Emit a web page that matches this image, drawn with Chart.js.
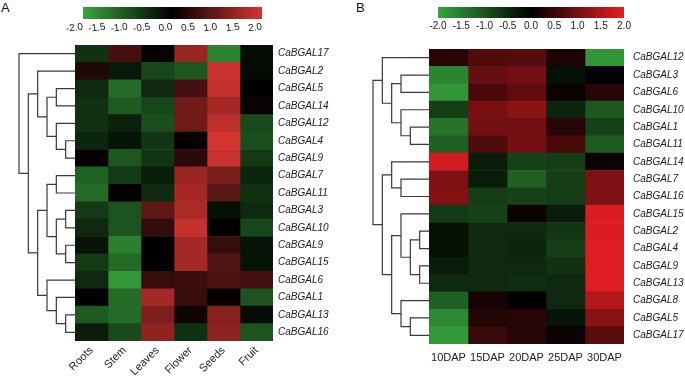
<!DOCTYPE html>
<html lang="en">
<head>
<meta charset="UTF-8" />
<title>CaBGAL expression heatmaps</title>
<script src="https://cdn.jsdelivr.net/npm/chart.js"></script>
<style>
  body { margin: 0; background: #fff; font-family: Arial, 'Liberation Sans', sans-serif; }
  #page { position: relative; width: 685px; height: 381px; overflow: hidden; }
  #page canvas { position: absolute; }
  .tag { position: absolute; font-size: 13px; line-height: 13px; color: #111; }
</style>
</head>
<body>
<div id="page">
  <div class="tag" style="left:1px; top:1px">A</div>
  <div class="tag" style="left:356px; top:1px">B</div>
  <canvas id="barA" width="219" height="32" style="left:63px; top:7px"></canvas>
  <canvas id="treeA" width="66" height="296" style="left:10px; top:45px"></canvas>
  <canvas id="heatA" width="298" height="336" style="left:45px; top:45px"></canvas>
  <canvas id="barB" width="226" height="31" style="left:418px; top:7px"></canvas>
  <canvas id="treeB" width="66" height="295" style="left:364px; top:49px"></canvas>
  <canvas id="heatB" width="255" height="321" style="left:429px; top:49px"></canvas>
</div>

<script>
  // panel A: tissues
  const genesA = ['CaBGAL17','CaBGAL2','CaBGAL5','CaBGAL14','CaBGAL12','CaBGAL4','CaBGAL9',
                  'CaBGAL7','CaBGAL11','CaBGAL3','CaBGAL10','CaBGAL9','CaBGAL15','CaBGAL6',
                  'CaBGAL1','CaBGAL13','CaBGAL16'];
  const tissues = ['Roots', 'Stem', 'Leaves', 'Flower', 'Seeds', 'Fruit'];
  const exprA = [
    [-0.6,  0.65,  0.05,  1.45,  -1.6,  -0.15],
    [ 0.3, -0.3,  -0.85, -1.05,   1.9,  -0.15],
    [-0.5, -1.3,  -0.5,   0.65,   1.85,  0.0 ],
    [-0.6, -1.1,  -0.85,  1.05,   1.55,  0.08],
    [-0.6, -0.4,  -0.95,  1.05,   1.8,  -0.9 ],
    [-0.45,-0.25, -0.65,  0.05,   2.0,  -0.95],
    [ 0.05,-1.05, -0.65,  0.4,    1.9,  -0.7 ],
    [-1.2, -0.7,  -0.35,  1.45,   1.15, -0.45],
    [-1.3,  0.05, -0.5,   1.55,   0.85, -0.6 ],
    [-0.7, -1.0,   0.9,   1.6,   -0.2,  -0.5 ],
    [-0.5, -1.0,   0.45,  1.85,   0.05, -0.85],
    [-0.25,-1.55,  0.0,   1.55,   0.5,  -0.25],
    [-0.7, -1.3,   0.0,   1.55,   0.75, -0.25],
    [-0.5, -1.85,  0.5,   0.55,   0.7,   0.65],
    [ 0.0, -1.3,   1.55,  0.5,    0.05, -1.0 ],
    [-1.1, -1.3,   1.2,   0.15,   1.25, -0.15],
    [-0.35,-0.9,   1.35, -0.6,    1.35, -1.0 ]
  ];
  // row clusters (row indices)
  const treeA = [0, [[1, [[2, 3], [4, [5, 6]]]], [[[7, 8], [[9, 10], [11, 12]]], [13, [14, [15, 16]]]]]];

  // panel B: fruit development
  const genesB = ['CaBGAL12','CaBGAL3','CaBGAL6','CaBGAL10','CaBGAL1','CaBGAL11','CaBGAL14',
                  'CaBGAL7','CaBGAL16','CaBGAL15','CaBGAL2','CaBGAL4','CaBGAL9','CaBGAL13',
                  'CaBGAL8','CaBGAL5','CaBGAL17'];
  const stages = ['10DAP', '15DAP', '20DAP', '25DAP', '30DAP'];
  const exprB = [
    [ 0.35,  0.7,   0.75,  0.25, -1.8 ],
    [-1.6,   0.9,   1.0,  -0.2,   0.0 ],
    [-1.8,   0.65,  0.85,  0.1,   0.35],
    [-0.75,  1.05,  1.2,  -0.45, -1.05],
    [-1.4,   1.0,   1.0,   0.35, -0.8 ],
    [-1.15,  0.7,   1.0,   0.65, -1.1 ],
    [ 1.85, -0.35, -0.8,  -0.75,  0.1 ],
    [ 1.1,  -0.35, -1.15, -0.75,  1.1 ],
    [ 1.15, -0.75, -0.8,  -0.75,  1.1 ],
    [-0.7,  -0.8,   0.1,  -0.35,  1.9 ],
    [-0.2,  -0.5,  -0.5,  -0.65,  1.9 ],
    [-0.2,  -0.5,  -0.45, -0.75,  1.95],
    [-0.35, -0.5,  -0.5,  -0.6,   1.95],
    [-0.5,  -0.5,  -0.55, -0.5,   1.95],
    [-1.15,  0.2,   0.0,  -0.5,   1.55],
    [-1.65,  0.3,   0.35, -0.25,  1.2 ],
    [-1.85,  0.5,   0.35,  0.1,   0.8 ]
  ];
  const treeB = [[0, [[1, 2], [3, [4, 5]]]], [[6, [7, 8]], [[9, [[10, 11], [12, 13]]], [14, [15, 16]]]]];

  const legendTicks = [-2, -1.5, -1, -0.5, 0, 0.5, 1, 1.5, 2];

  const GREEN = [55, 165, 60];
  const FONT = "Arial, 'Liberation Sans', sans-serif";
  const LEAF = 6; // depth where the leaves end

  function heatColor(v, hi) {
    const t = Math.min(Math.abs(v) / 2, 1);
    const c = v < 0 ? GREEN : hi;
    return 'rgb(' + c.map(k => Math.round(k * t)).join(',') + ')';
  }

  function fixSize(size) {
    return s => {
      if (s.isHorizontal()) s.height = size; else s.width = size;
      s.paddingLeft = s.paddingRight = s.paddingTop = s.paddingBottom = 0;
    };
  }

  function colorbar(id, hi) {
    new Chart(document.getElementById(id), {
      type: 'bar',
      data: {
        labels: [''],
        datasets: [{
          data: [[legendTicks[0], legendTicks[legendTicks.length - 1]]],
          backgroundColor: ctx => {
            const a = ctx.chart.chartArea;
            if (!a) return null;
            const g = ctx.chart.ctx.createLinearGradient(a.left, 0, a.right, 0);
            g.addColorStop(0, heatColor(-2, hi));
            g.addColorStop(0.5, '#000');
            g.addColorStop(1, heatColor(2, hi));
            return g;
          },
          barPercentage: 1, categoryPercentage: 1, borderWidth: 0
        }]
      },
      options: {
        indexAxis: 'y', responsive: false, animation: false,
        layout: { padding: { left: 20, right: 20 } },
        plugins: { legend: { display: false }, tooltip: { enabled: false } },
        scales: {
          x: {
            type: 'linear', min: -2, max: 2,
            grid: { display: false, drawTicks: false }, border: { display: false },
            afterBuildTicks: s => { s.ticks = legendTicks.map(v => ({ value: v })); },
            ticks: { callback: v => v.toFixed(1), font: { size: 10, family: FONT }, color: '#222', padding: 2 },
            afterFit: fixSize(20)
          },
          y: { display: false }
        }
      }
    });
  }

  function heatmap(id, genes, cols, expr, hi, o) {
    new Chart(document.getElementById(id), {
      type: 'bar',
      data: {
        labels: genes,
        datasets: cols.map((c, j) => ({
          label: c,
          data: genes.map(() => 1),
          backgroundColor: expr.map(row => heatColor(row[j], hi)),
          barPercentage: 1, categoryPercentage: 1, borderWidth: 0
        }))
      },
      options: {
        indexAxis: 'y', responsive: false, animation: false,
        layout: { padding: { left: o.left } },
        plugins: { legend: { display: false }, tooltip: { enabled: false } },
        scales: {
          x: {
            type: 'linear', stacked: true, min: 0, max: cols.length,
            grid: { display: false, drawTicks: false }, border: { display: false },
            afterBuildTicks: s => { s.ticks = cols.map((c, j) => ({ value: j + 0.5 })); },
            ticks: {
              autoSkip: false, callback: (v, i) => cols[i],
              minRotation: o.rot, maxRotation: o.rot, padding: o.xpad,
              font: { size: 11, family: FONT }, color: '#222'
            },
            afterFit: fixSize(o.xh)
          },
          y: {
            stacked: true, position: 'right',
            grid: { display: false, drawTicks: false }, border: { display: false },
            ticks: { autoSkip: false, padding: o.ypad, font: { size: 10, style: 'italic', family: FONT }, color: '#222' },
            afterFit: fixSize(o.yw)
          }
        }
      }
    });
  }

  function dendrogram(id, tree, rows) {
    const segs = [];
    function walk(node, depth) {
      if (typeof node === 'number') return { x: LEAF, y: node };
      const a = walk(node[0], depth + 1), b = walk(node[1], depth + 1);
      segs.push([{ x: a.x, y: a.y }, { x: depth, y: a.y }, { x: depth, y: b.y }, { x: b.x, y: b.y }]);
      return { x: depth, y: (a.y + b.y) / 2 };
    }
    walk(tree, 0);
    new Chart(document.getElementById(id), {
      type: 'scatter',
      data: {
        datasets: segs.map(d => ({
          data: d, showLine: true, pointRadius: 0, borderColor: '#3a3a3a', borderWidth: 1.2, clip: false
        }))
      },
      options: {
        responsive: false, animation: false,
        layout: { padding: { left: 9, right: 1 } },
        plugins: { legend: { display: false }, tooltip: { enabled: false } },
        scales: {
          x: { type: 'linear', min: 0, max: LEAF, display: false },
          y: { type: 'linear', reverse: true, min: -0.5, max: rows.length - 0.5, display: false }
        }
      }
    });
  }

  const redA = [212, 52, 48];
  const redB = [228, 30, 35];

  colorbar('barA', redA);
  dendrogram('treeA', treeA, genesA);
  heatmap('heatA', genesA, tissues, exprA, redA, { left: 30, rot: 45, xpad: 3, xh: 40, ypad: 5, yw: 70 });

  colorbar('barB', redB);
  dendrogram('treeB', treeB, genesB);
  heatmap('heatB', genesB, stages, exprB, redB, { left: 0, rot: 0, xpad: 7, xh: 26, ypad: 9, yw: 60 });
</script>
</body>
</html>
